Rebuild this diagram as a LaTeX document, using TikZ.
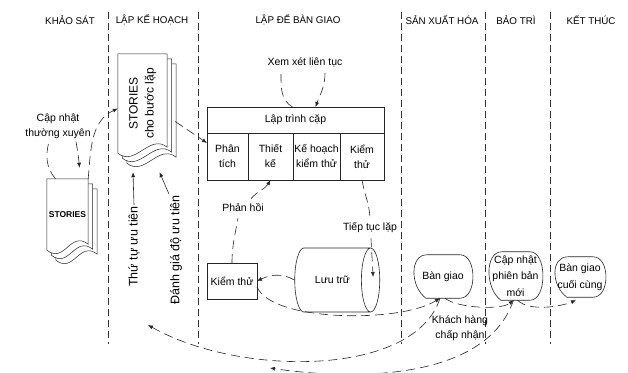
\documentclass[tikz,border=0pt]{standalone}
\usepackage{fontspec}
\setmainfont{Liberation Sans}
\usetikzlibrary{arrows.meta,positioning,shapes.geometric,backgrounds}

\begin{document}
\begin{tikzpicture}[
  x=1pt, y=1pt,
  font=\fontsize{10.5}{15}\selectfont,
  lane/.style={draw=black!80, line width=0.6pt, dash pattern=on 7pt off 4pt},
  heading/.style={font=\fontsize{9.8}{11}\selectfont},
  box/.style={draw=black!85, line width=0.6pt, fill=white, align=center, inner sep=1pt, outer sep=0pt},
  cell/.style={box, minimum height=47pt},
  page/.style={draw=black!85, line width=0.5pt, fill=white},
  release/.style={align=center, inner sep=1pt, font=\fontsize{10.5}{16.5}\selectfont},
  outline/.style={draw=black!85, line width=0.6pt},
  lbl/.style={align=center, inner sep=1pt},
  vlbl/.style={rotate=90, inner sep=1pt, font=\fontsize{12.5}{14}\selectfont},
  trail/.style={draw=black!85, line width=0.6pt, dash pattern=on 9pt off 5pt},
  flow/.style={trail, -{Latex[length=5pt,width=4pt]}},
  solidflow/.style={draw=black!85, line width=0.6pt, -{Latex[length=5pt,width=4pt]}}
]

\useasboundingbox (0,0) rectangle (628,372);

% lanes
\foreach \lx in {108,198,401,485,550}
  \draw[lane] (\lx,360) -- (\lx,28);

\node[heading] (hsurvey) at (70,352) {KHẢO SÁT};
\node[heading] (hplan) at (152,352) {LẬP KẾ HOẠCH};
\node[heading] (hiter) at (298,352) {LẬP ĐỂ BÀN GIAO};
\node[heading] (hprod) at (442,352) {SẢN XUẤT HÓA};
\node[heading] (hmaint) at (516,352) {BẢO TRÌ};
\node[heading] (hend) at (591,352) {KẾT THÚC};

% story documents
\node[inner sep=0pt, minimum width=41pt, minimum height=71pt, font=\bfseries\fontsize{8.5}{10}\selectfont] (stories) at (67.5,157.5) {STORIES};
\node[inner sep=0pt, minimum width=49pt, minimum height=99pt, font=\fontsize{12}{16}\selectfont] (iter) at (142.5,268.5) {\rotatebox{90}{\begin{tabular}{@{}c@{}}STORIES\\cho bước lặp\end{tabular}}};

\begin{scope}[on background layer]
  \foreach \d in {stories,iter}
    \foreach \s in {2,1,0}
      \draw[page] ([shift={({4.5*\s},{-5*\s})}]\d.north west) -- ([shift={({4.5*\s},{-5*\s})}]\d.north east) -- ([shift={({4.5*\s},{6-5*\s})}]\d.south east) .. controls +(-18,14) and +(18,-14) .. ([shift={({4.5*\s},{-5*\s})}]\d.south west) -- cycle;
\end{scope}

% pair programming table
\node[box, minimum width=177pt, minimum height=26pt] (pair) at (295.5,252) {Lập trình cặp};
\node[cell, minimum width=41pt, anchor=north west] (anal) at (pair.south west) {Phân\\tích};
\node[cell, minimum width=45pt, right=0pt of anal] (design) {Thiết\\kế};
\node[cell, minimum width=47pt, right=0pt of design] (tplan) {Kế hoạch\\kiểm thử};
\node[cell, minimum width=44pt, right=0pt of tplan] (tst) {Kiểm\\thử};

\node[box, minimum width=50pt, minimum height=36pt] (test) at (232,91) {Kiểm thử};
\node[cylinder, draw=black!85, line width=0.6pt, minimum width=64pt, minimum height=85pt, aspect=2.4, inner sep=0pt] (arch) at (332.5,92) {Lưu trữ};

% releases
\node[release, minimum width=60pt, minimum height=43pt] (bg) at (443,95.5) {Bàn giao};
\node[release, minimum width=55pt, minimum height=48pt] (upd) at (515.5,96) {Cập nhật\\phiên bản\\mới};
\node[release, minimum width=52pt, minimum height=40pt] (fin) at (580,95) {Bàn giao\\cuối cùng};
\foreach \n in {bg,upd,fin}
  \draw[outline] ([xshift=13pt]\n.south west) .. controls ([xshift=-3pt,yshift=12pt]\n.south west) and ([xshift=-3pt]\n.north west) .. ([xshift=14pt]\n.north west) -- ([xshift=-13pt]\n.north east) .. controls ([xshift=4pt]\n.north east) and ([xshift=4pt]\n.south east) .. ([xshift=-13pt]\n.south east) -- cycle;

% labels
\node[lbl] (updlbl) at (58,246) {Cập nhật\\thường xuyên};
\node[lbl] (revlbl) at (305,310) {Xem xét liên tục};
\node[lbl] (fblbl) at (243,164) {Phản hồi};
\node[lbl] (contlbl) at (370,144) {Tiếp tục lặp};
\node[lbl] (acclbl) at (460,43.5) {Khách hàng\\chấp nhận};
\node[vlbl] (prio1) at (134,125.5) {Thứ tự ưu tiên};
\node[vlbl] (prio2) at (176,122) {Đánh giá độ ưu tiên};

\coordinate (backplan) at (148,47);
\coordinate (backiter) at (270,4);

% connectors
\draw[trail] ([xshift=-12pt]stories.north) to[out=130,in=-105] ([xshift=-9pt,yshift=-2pt]updlbl.south);
\draw[flow] ([xshift=18pt,yshift=-2pt]updlbl.south) to[out=-80,in=95] ([xshift=12pt,yshift=11pt]stories.north);
\draw[flow] (stories.north east) to[out=85,in=205] ([yshift=-5pt]iter.west);
\draw[flow] ([xshift=8pt,yshift=-18pt]iter.east) -- ([yshift=-10pt]anal.north west);
\draw[solidflow] (prio1.east) -- ([xshift=-9.5pt,yshift=-19pt]iter.south);
\draw[solidflow] (prio2.north east) -- ([xshift=17pt,yshift=-19pt]iter.south);

\draw[trail] ([xshift=-3pt]pair.north) to[out=150,in=-90] ([xshift=-24pt,yshift=-5pt]revlbl.south);
\draw[flow] ([xshift=20pt,yshift=-5pt]revlbl.south) to[out=-90,in=70] ([xshift=20pt]pair.north);

\draw[trail] (test.north) to[out=90,in=-100] ([xshift=-5pt,yshift=-5pt]fblbl.south);
\draw[flow] ([xshift=8pt,yshift=4pt]fblbl.north) to[out=50,in=-120] (design.south);

\draw[trail] (tst.south) to[out=-80,in=95] ([yshift=5pt]contlbl.north);
\draw[flow] ([xshift=1pt,yshift=-4pt]contlbl.south) to[out=-88,in=92] ([xshift=-7pt,yshift=3pt]arch.east);

\draw[flow] (arch.west) to[out=150,in=25] (test.east);
\draw[flow] ([yshift=-6pt]test.east) .. controls +(15,-35) and +(-40,-25) .. ([xshift=-3pt]bg.south);

\draw[flow] ([xshift=2pt]bg.south) .. controls +(12,-10) and +(-12,-10) .. ([xshift=-2pt]upd.south);
\draw[flow] ([xshift=2pt]upd.south) .. controls +(12,-12) and +(-14,-6) .. ([xshift=-4pt,yshift=-3pt]fin.south);

\draw[flow] ([xshift=-3pt]bg.south) .. controls +(-25,-79) and +(92,-52) .. (backplan);
\draw[flow] ([xshift=-2pt]upd.south) .. controls +(-28,-82) and +(80,-12) .. (backiter);

\end{tikzpicture}
\end{document}
